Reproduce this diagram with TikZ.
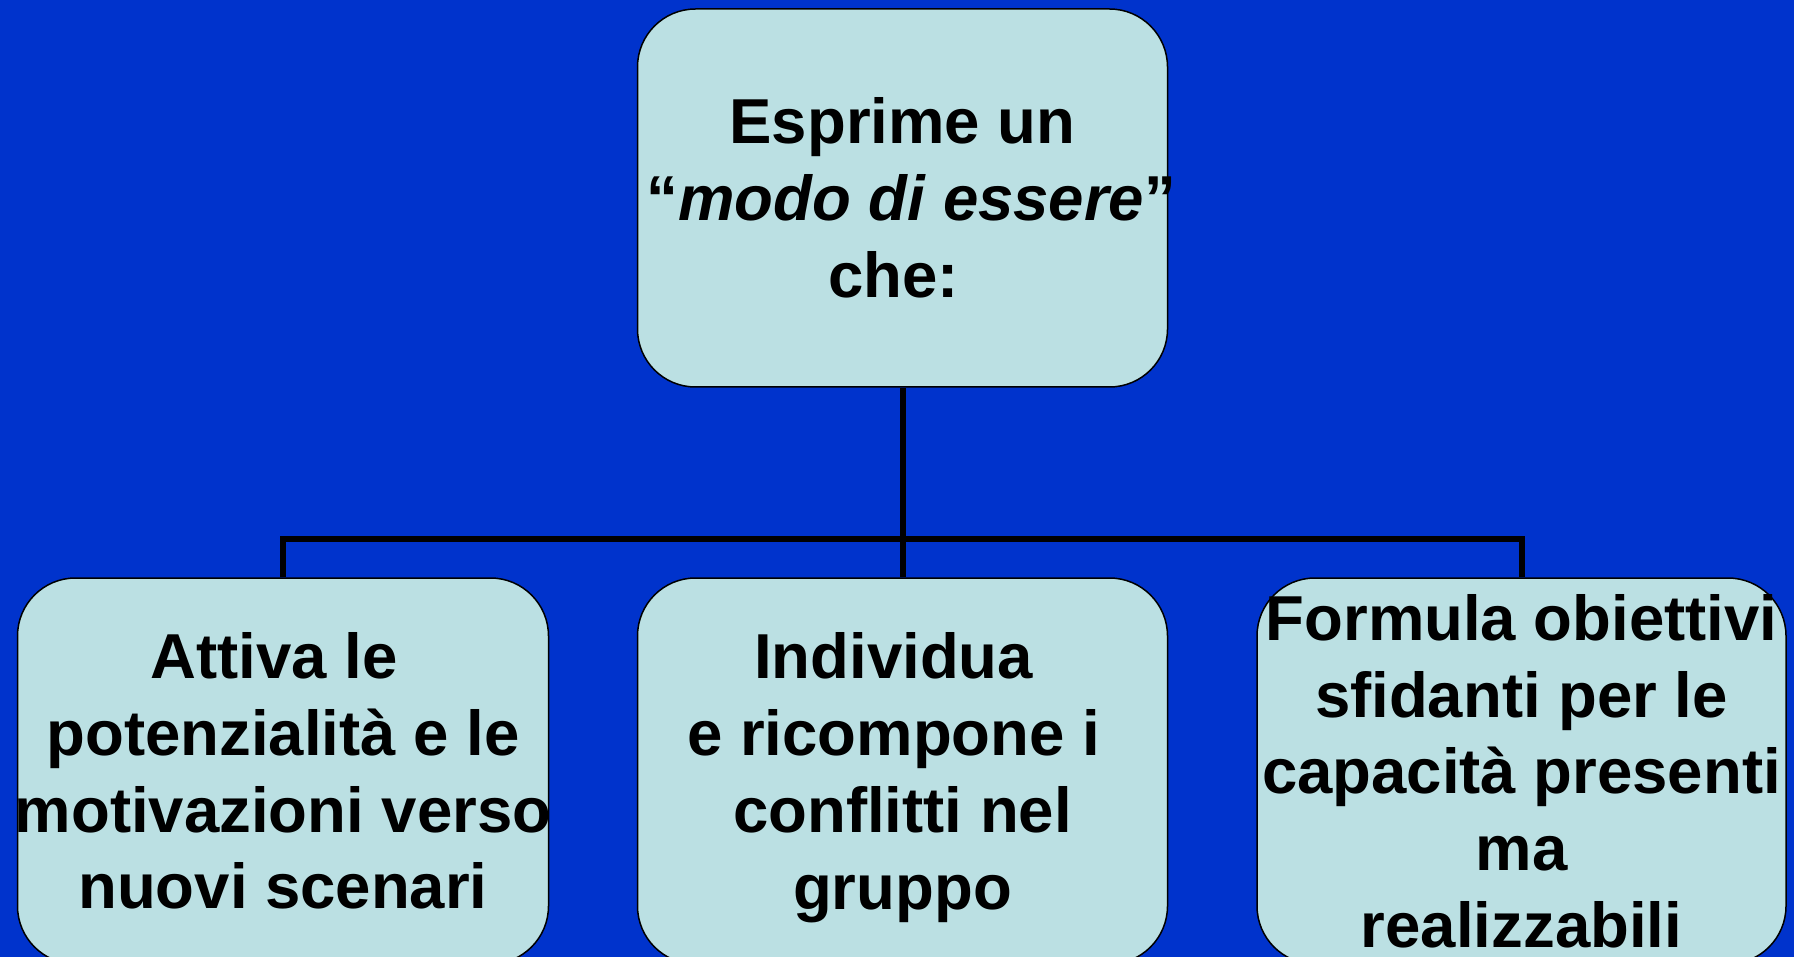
\documentclass[tikz,border=0pt]{standalone}
\usepackage{fontspec}
\setmainfont{Liberation Sans}
\definecolor{bgblue}{RGB}{0,51,204}
\definecolor{boxfill}{RGB}{187,224,227}
\tikzset{
  box/.style={draw=black, line width=1.5pt, fill=boxfill, rounded corners=58pt,
    minimum width=530pt, inner sep=0pt, align=center,
    font=\fontsize{63.5}{76.7}\selectfont\bfseries},
  conn/.style={draw=black, line width=6pt, line join=miter}
}
\begin{document}
\begin{tikzpicture}[x=1pt,y=-1pt]
\useasboundingbox (0,0) rectangle (1794,957);
\clip (0,0) rectangle (1794,957);
\fill[bgblue] (0,0) rectangle (1794,957);

\node[box, minimum height=378pt] (top) at (902.5,198)
  {Esprime un\\\makebox[480pt]{\kern0.28em``\textit{modo di essere}''}\\che:\kern0.28em};
\node[box, minimum height=386pt, minimum width=531pt] (left) at (283,771)
  {Attiva le\kern0.28em\\potenzialità e le\\\makebox[500pt]{motivazioni verso}\\nuovi scenari};
\node[box, minimum height=386pt] (mid) at (902.5,771)
  {Individua\kern0.28em\\e ricompone i\kern0.28em\\conflitti nel\\\smash{gruppo}};
\node[box, minimum height=386pt, minimum width=529pt] (right) at (1521.5,771)
  {Formula obiettivi\\sfidanti per le\\capacità presenti\\ma\\realizzabili};

\coordinate (bus) at (902.5,539);
\draw[conn] (top.south) -- (mid.north);
\draw[conn] (left.north) -- (left.north |- bus) -- (right.north |- bus) -- (right.north);
\end{tikzpicture}
\end{document}
